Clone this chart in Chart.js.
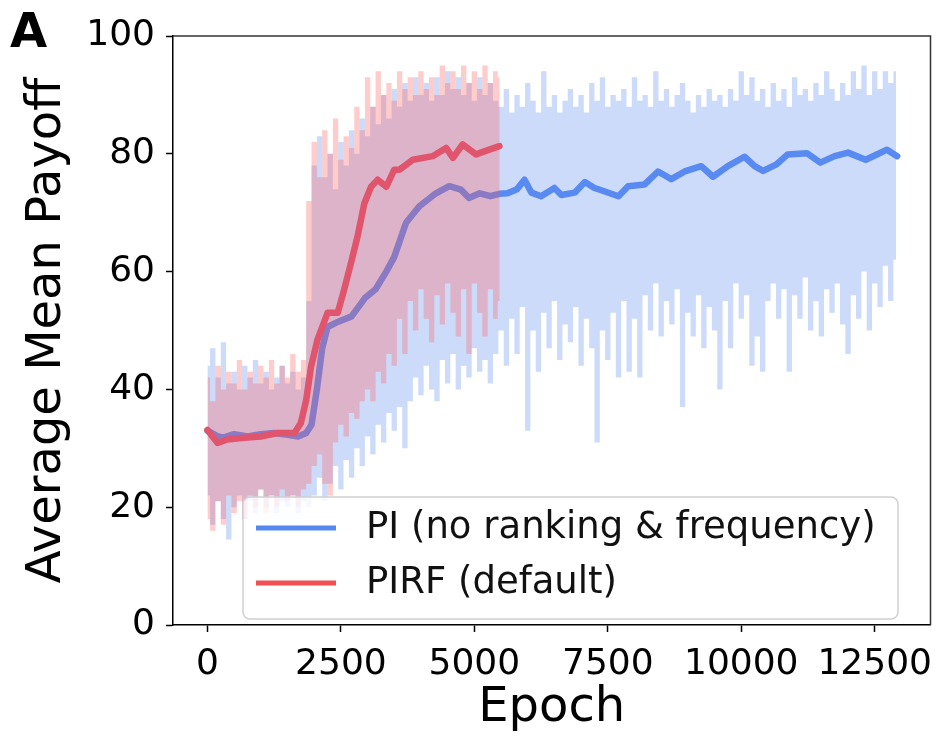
<!DOCTYPE html>
<html>
<head>
<meta charset="utf-8">
<script src="https://cdn.jsdelivr.net/npm/chart.js@4.4.1/dist/chart.umd.min.js"></script>
<style>
  html, body { margin: 0; padding: 0; background: #fff; }
  #wrap { width: 938px; height: 738px; }
</style>
</head>
<body>
<div id="wrap"><canvas id="chart" width="938" height="738"></canvas></div>
<script>
// series names (legend order)
const seriesNames = ["PI (no ranking & frequency)", "PIRF (default)"];

const xTicks = [0, 2500, 5000, 7500, 10000, 12500];
const yTicks = [0, 20, 40, 60, 80, 100];

// smoothed mean curves
const piMeanEpochs = [0, 200, 300, 500, 750, 1000, 1250, 1500, 1700, 1850, 1950, 2050, 2150, 2250, 2450, 2700, 2950, 3150, 3350, 3500, 3720, 3970, 4280, 4530, 4750, 4900, 5100, 5300, 5470, 5620, 5800, 5940, 6070, 6250, 6500, 6630, 6880, 7070, 7250, 7350, 7700, 7880, 8190, 8440, 8690, 8940, 9250, 9470, 9750, 10060, 10250, 10410, 10660, 10870, 11230, 11480, 11750, 12000, 12330, 12520, 12730, 12920];
const piMeanValues = [33.0, 32.0, 31.8, 32.4, 32.0, 32.4, 32.6, 32.3, 32.0, 32.6, 34.0, 40.0, 47.0, 50.6, 51.5, 52.4, 55.5, 57.0, 60.0, 62.5, 68.3, 71.1, 73.3, 74.5, 73.9, 72.5, 73.3, 72.8, 73.2, 73.3, 74.0, 75.6, 73.4, 72.8, 74.2, 73.0, 73.4, 75.2, 74.2, 73.9, 72.8, 74.5, 74.8, 77.0, 75.7, 77.0, 77.9, 76.1, 77.9, 79.5, 77.9, 77.1, 78.2, 79.9, 80.1, 78.5, 79.6, 80.2, 79.0, 79.8, 80.7, 79.6];

const pirfMeanEpochs = [0, 190, 370, 690, 1000, 1310, 1630, 1750, 1850, 1940, 2060, 2250, 2440, 2560, 2690, 2810, 2940, 3065, 3190, 3350, 3500, 3600, 3850, 4220, 4470, 4600, 4780, 5030, 5280, 5470];
const pirfMeanValues = [33.1, 30.9, 31.5, 31.8, 32.0, 32.6, 32.6, 34.3, 38.2, 43.8, 48.4, 53.0, 53.0, 56.9, 61.5, 65.9, 71.6, 74.4, 75.6, 74.4, 77.3, 77.3, 79.0, 79.6, 81.0, 79.3, 81.6, 79.9, 80.7, 81.3];

// spread bands (upper / lower edge), every 100 epochs
const piBandEpochs = [0, 100, 200, 300, 400, 500, 600, 700, 800, 900, 1000, 1100, 1200, 1300, 1400, 1500, 1600, 1700, 1800, 1900, 2000, 2100, 2200, 2300, 2400, 2500, 2600, 2700, 2800, 2900, 3000, 3100, 3200, 3300, 3400, 3500, 3600, 3700, 3800, 3900, 4000, 4100, 4200, 4300, 4400, 4500, 4600, 4700, 4800, 4900, 5000, 5100, 5200, 5300, 5400, 5500, 5600, 5700, 5800, 5900, 6000, 6100, 6200, 6300, 6400, 6500, 6600, 6700, 6800, 6900, 7000, 7100, 7200, 7300, 7400, 7500, 7600, 7700, 7800, 7900, 8000, 8100, 8200, 8300, 8400, 8500, 8600, 8700, 8800, 8900, 9000, 9100, 9200, 9300, 9400, 9500, 9600, 9700, 9800, 9900, 10000, 10100, 10200, 10300, 10400, 10500, 10600, 10700, 10800, 10900, 11000, 11100, 11200, 11300, 11400, 11500, 11600, 11700, 11800, 11900, 12000, 12100, 12200, 12300, 12400, 12500, 12600, 12700, 12800, 12900];
const piUpper = [44, 47, 42, 48, 41, 43, 40, 44, 42, 45, 41, 43, 40, 42, 44, 41, 43, 40, 42,
  55, 78, 83, 76, 80, 74, 82, 78, 84, 80, 86, 83, 88, 85, 90, 86, 91, 88, 92, 89, 93, 90, 92, 89, 93, 90, 94, 91, 93, 90, 92, 89, 93, 90, 92, 89,
  88, 91, 87, 90, 88, 92, 89, 87, 94, 88, 90, 87, 89, 91, 88, 90, 87, 92, 89, 93, 88, 90, 89, 91, 88, 93, 89, 90, 88, 94,
  89, 91, 88, 90, 92, 89, 87, 90, 88, 91, 89, 90, 88, 91, 89, 94, 90, 93, 89, 91, 88, 92, 89, 91, 88, 93, 90, 91, 89, 92,
  90, 94, 91, 89, 92, 90, 94, 91, 95, 90, 94, 91, 94, 92, 94];
const piLower = [22, 17, 21, 18, 14.5, 20, 22, 18, 21, 19, 23, 20, 22, 19, 21, 20, 22, 19, 21,
  20, 22, 25, 21, 24, 27, 23, 28, 25, 30, 27, 32, 29, 34, 31, 36, 33, 37, 30, 38, 42, 39, 44, 40, 38, 45, 41, 46, 40, 44, 42, 47, 43, 45, 41, 46,
  50, 44, 52, 46, 54, 33, 50, 43, 53, 47, 55, 45, 51, 48, 54, 44, 52, 47, 31, 50, 45, 53, 42, 55, 43, 52, 42, 56, 50, 58,
  49, 55, 51, 57, 37, 53, 49, 56, 47, 54, 50, 40, 55, 47, 58, 52, 56, 44, 49, 43, 55, 58, 52, 57, 43, 56, 52, 59, 50, 55,
  49, 57, 53, 58, 51, 46, 56, 52, 60, 50, 58, 54, 61, 55, 62];

const pirfBandEpochs = [0, 100, 200, 300, 400, 500, 600, 700, 800, 900, 1000, 1100, 1200, 1300, 1400, 1500, 1600, 1700, 1800, 1900, 2000, 2100, 2200, 2300, 2400, 2500, 2600, 2700, 2800, 2900, 3000, 3100, 3200, 3300, 3400, 3500, 3600, 3700, 3800, 3900, 4000, 4100, 4200, 4300, 4400, 4500, 4600, 4700, 4800, 4900, 5000, 5100, 5200, 5300, 5400, 5475];
const pirfUpper = [42, 38, 44, 40, 43, 41, 45, 40, 43, 41, 44, 42, 45, 41, 44, 42, 46, 43, 45,
  72, 82, 76, 84, 80, 86, 79, 83, 81, 88, 84, 93, 88, 94, 90, 92, 89, 94, 91, 93, 90, 94, 91, 93, 90, 95, 92, 94, 91, 95, 92, 94, 91, 95, 92, 94, 93];
const pirfLower = [18, 16, 21, 17, 22, 19, 21, 18, 22, 20, 23, 19, 22, 20, 23, 21, 22, 20, 23,
  24, 27, 29, 24, 22, 31, 34, 32, 36, 35, 38, 40, 38, 43, 41, 46, 44, 52, 46, 55, 50, 57, 52, 48, 56, 51, 58, 53, 49, 57, 46, 58, 53, 49, 57, 52, 55];

const FONT = "'DejaVu Sans', 'Liberation Sans', sans-serif";
const piLineColor = "rgb(88, 138, 242)";
const piFillColor = "rgba(85, 135, 235, 0.3)";
const pirfLineColor = "rgb(224, 84, 108)";
const pirfFillColor = "rgba(255, 85, 85, 0.3)";
const legendColors = ["rgb(85, 135, 240)", "rgb(242, 80, 82)"];

function points(xs, ys) {
    return xs.map((x, i) => ({ x: x, y: ys[i] }));
}

function roundRect(ctx, x, y, w, h, r) {
    ctx.beginPath();
    ctx.moveTo(x + r, y);
    ctx.arcTo(x + w, y, x + w, y + h, r);
    ctx.arcTo(x + w, y + h, x, y + h, r);
    ctx.arcTo(x, y + h, x, y, r);
    ctx.arcTo(x, y, x + w, y, r);
    ctx.closePath();
}

// legend inside the axes, top/right spines and the panel letter
const extras = {
    id: "extras",
    afterDraw(chart) {
        const ctx = chart.ctx;
        const a = chart.chartArea;
        ctx.save();

        ctx.strokeStyle = "#333";
        ctx.lineWidth = 1.5;
        ctx.beginPath();
        ctx.moveTo(a.left, a.top);
        ctx.lineTo(a.right, a.top);
        ctx.lineTo(a.right, a.bottom);
        ctx.stroke();

        let bx = 243, by = 497, bw = 655, bh = 122;
        roundRect(ctx, bx, by, bw, bh, 7);
        ctx.fillStyle = "rgba(255,255,255,0.8)";
        ctx.fill();
        ctx.strokeStyle = "#d0d0d0";
        ctx.lineWidth = 1.5;
        ctx.stroke();

        ctx.font = "37px " + FONT;
        ctx.textBaseline = "middle";
        ctx.textAlign = "left";
        [528, 583].forEach((ly, i) => {
            ctx.strokeStyle = legendColors[i];
            ctx.lineWidth = 5;
            ctx.beginPath();
            ctx.moveTo(256, ly);
            ctx.lineTo(336, ly);
            ctx.stroke();
            ctx.fillStyle = "#111";
            ctx.fillText(seriesNames[i], 366, ly);
        });

        ctx.font = "bold 48px " + FONT;
        ctx.textBaseline = "alphabetic";
        ctx.fillStyle = "#000";
        ctx.fillText("A", 10, 47);
        ctx.restore();
    }
};

const meanStyle = { borderWidth: 6.5, borderJoinStyle: "round", borderCapStyle: "round", fill: false };
const bandStyle = { borderColor: "transparent", borderWidth: 0, stepped: "middle" };

new Chart(document.getElementById("chart"), {
    type: "line",
    data: {
        datasets: [
            Object.assign({ label: seriesNames[1], data: points(pirfMeanEpochs, pirfMeanValues), borderColor: pirfLineColor, order: 1 }, meanStyle),
            Object.assign({ label: "pirf upper", data: points(pirfBandEpochs, pirfUpper), backgroundColor: pirfFillColor, fill: "+1", order: 2 }, bandStyle),
            Object.assign({ label: "pirf lower", data: points(pirfBandEpochs, pirfLower), fill: false, order: 2 }, bandStyle),
            Object.assign({ label: seriesNames[0], data: points(piMeanEpochs, piMeanValues), borderColor: piLineColor, order: 3 }, meanStyle),
            Object.assign({ label: "pi upper", data: points(piBandEpochs, piUpper), backgroundColor: piFillColor, fill: "+1", order: 4 }, bandStyle),
            Object.assign({ label: "pi lower", data: points(piBandEpochs, piLower), fill: false, order: 4 }, bandStyle)
        ]
    },
    options: {
        responsive: false,
        animation: false,
        devicePixelRatio: 1,
        layout: { padding: { top: 36, right: 7.5, bottom: 0, left: 0 } },
        elements: { point: { radius: 0 }, line: { tension: 0 } },
        plugins: { legend: { display: false }, tooltip: { enabled: false } },
        scales: {
            x: {
                type: "linear",
                min: -645,
                max: 13545,
                afterBuildTicks: s => { s.ticks = xTicks.map(v => ({ value: v })); },
                afterFit: s => { s.height = 113; s.paddingLeft = 0; s.paddingRight = 0; },
                ticks: { callback: v => String(v), font: { family: FONT, size: 36 }, color: "#000", padding: 11, maxRotation: 0, autoSkip: false },
                grid: { drawOnChartArea: false, drawTicks: true, tickLength: 7, tickColor: "#000", tickWidth: 1.5 },
                border: { display: true, color: "#000", width: 1.5 },
                title: { display: true, text: "Epoch", font: { family: FONT, size: 48 }, color: "#000", padding: { top: 0, bottom: 1 } }
            },
            y: {
                min: 0,
                max: 100,
                afterBuildTicks: s => { s.ticks = yTicks.map(v => ({ value: v })); },
                afterFit: s => { s.width = 173; s.paddingTop = 0; s.paddingBottom = 0; },
                ticks: { font: { family: FONT, size: 36 }, color: "#000", padding: 11 },
                grid: { drawOnChartArea: false, drawTicks: true, tickLength: 7, tickColor: "#000", tickWidth: 1.5 },
                border: { display: true, color: "#000", width: 1.5 },
                title: { display: true, text: "Average Mean Payoff", font: { family: FONT, size: 48 }, color: "#000", padding: { top: 19, bottom: 0 } }
            }
        }
    },
    plugins: [extras]
});
</script>
</body>
</html>
